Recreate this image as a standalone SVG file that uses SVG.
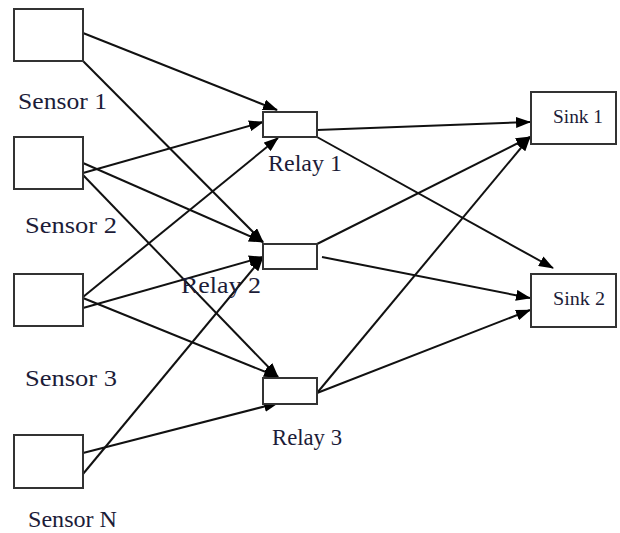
<svg xmlns="http://www.w3.org/2000/svg" width="620" height="533" viewBox="0 0 620 533">
<style>
.box{fill:#fff;stroke:#333;stroke-width:2}
.lbl{font-family:"Liberation Serif",serif;font-size:24px;fill:#1c1c38}
.rl{font-family:"Liberation Serif",serif;font-size:23px;fill:#1c1c38}
.slbl{font-family:"Liberation Serif",serif;font-size:19px;fill:#1c1c38}
.c line{stroke:#111;stroke-width:2;marker-end:url(#ah)}
</style>
<defs>
<marker id="ah" markerUnits="userSpaceOnUse" markerWidth="15" markerHeight="11" refX="14" refY="5.5" orient="auto">
<path d="M0,0 L15,5.5 L0,11 z" fill="#000"/>
</marker>
</defs>
<rect width="620" height="533" fill="#fff"/>
<g class="c" id="connectors">
<line x1="83" y1="33" x2="277" y2="110"/>
<line x1="83" y1="61" x2="263" y2="242"/>
<line x1="83" y1="173" x2="263" y2="122"/>
<line x1="83" y1="163" x2="263" y2="242"/>
<line x1="83" y1="175" x2="278" y2="377"/>
<line x1="83" y1="297" x2="278" y2="138"/>
<line x1="83" y1="308" x2="263" y2="257"/>
<line x1="83" y1="298" x2="278" y2="377"/>
<line x1="83" y1="453" x2="278" y2="403"/>
<line x1="83" y1="474" x2="263" y2="257"/>
<line x1="317" y1="130" x2="530" y2="122"/>
<line x1="317" y1="137" x2="553" y2="268"/>
<line x1="317" y1="244" x2="530" y2="137"/>
<line x1="322" y1="257" x2="530" y2="298"/>
<line x1="317" y1="393" x2="530" y2="137"/>
<line x1="317" y1="393" x2="530" y2="310"/>
</g>
<g id="sensor1"><rect class="box" x="14" y="9" width="69" height="52"/><text class="lbl" x="18" y="109" textLength="89" lengthAdjust="spacingAndGlyphs">Sensor 1</text></g>
<g id="sensor2"><rect class="box" x="14" y="137" width="69" height="52"/><text class="lbl" x="25" y="233" textLength="92" lengthAdjust="spacingAndGlyphs">Sensor 2</text></g>
<g id="sensor3"><rect class="box" x="14" y="274" width="69" height="52"/><text class="lbl" x="25" y="386" textLength="92" lengthAdjust="spacingAndGlyphs">Sensor 3</text></g>
<g id="sensorN"><rect class="box" x="14" y="435" width="69" height="53"/><text class="lbl" x="28" y="527" textLength="89" lengthAdjust="spacingAndGlyphs">Sensor N</text></g>
<g id="relay1"><rect class="box" x="263" y="112" width="54" height="25"/><text class="rl" x="268" y="171" textLength="74" lengthAdjust="spacingAndGlyphs">Relay 1</text></g>
<g id="relay2"><rect class="box" x="263" y="244" width="54" height="25"/><text class="rl" x="181" y="293" textLength="80" lengthAdjust="spacingAndGlyphs">Relay 2</text></g>
<g id="relay3"><rect class="box" x="263" y="378" width="54" height="26"/><text class="rl" x="272" y="445" textLength="70" lengthAdjust="spacingAndGlyphs">Relay 3</text></g>
<g id="sink1"><rect class="box" x="531" y="92" width="85" height="52"/><text class="slbl" x="553" y="123" textLength="50" lengthAdjust="spacingAndGlyphs">Sink 1</text></g>
<g id="sink2"><rect class="box" x="531" y="274" width="85" height="53"/><text class="slbl" x="553" y="305" textLength="52" lengthAdjust="spacingAndGlyphs">Sink 2</text></g>
</svg>
